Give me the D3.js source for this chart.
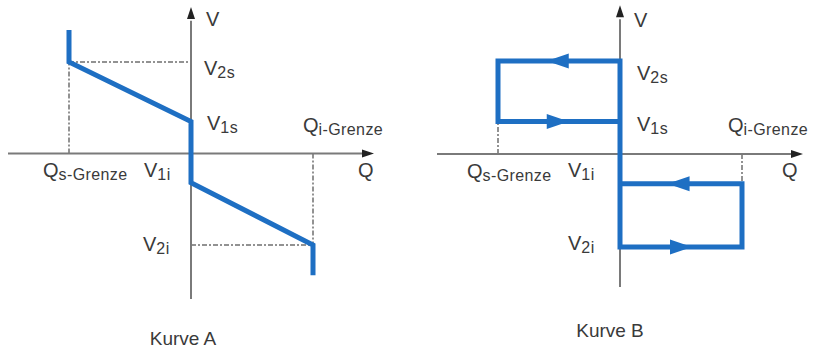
<!DOCTYPE html>
<html>
<head>
<meta charset="utf-8">
<script src="https://cdn.jsdelivr.net/npm/d3@7"></script>
<style>
  body { margin: 0; background: #fff; }
  svg { display: block; }
  text { font-family: "Liberation Sans", Arial, sans-serif; fill: #3a3a3a; }
</style>
</head>
<body>
<svg id="chart" width="813" height="350"></svg>
<script>
// curve A: droop characteristic (Q, V)
const curveAQ = [-1, -1, 0, 0, 1, 1];
const curveAV = [1.35, 1, 0.35, -0.32, -1, -1.33];
// curve B: hysteresis loops
const curveBQ = [0, -1, -1, 0, 0, 1, 1, 0];
const curveBV = [0.35, 0.35, 1, 1, -1, -1, -0.32, -0.32];
const arrowsBQ = [-0.51, -0.51, 0.48, 0.5];
const arrowsBV = [1, 0.35, -0.32, -1];
const arrowsBDir = [-1, 1, -1, 1];
const titles = ['Kurve A', 'Kurve B'];

const svg = d3.select('#chart');
const blue = '#1e6fc3';

const panels = [
	{ title: titles[0], xr: [69, 313], yr: [245, 62], vBottom: -1.59,
		guides: [[[-1, 1], [0, 1]], [[-1, 0], [-1, 1]], [[1, 0], [1, -1]], [[0, -1], [1, -1]]],
		lab: { V: [15, 26], V2s: [13, 75], V1s: [16, 130], Qi: [-10, 132], Qs: [-26, 177], V1i: [-47, 177], Q: [358, 177], V2i: [-48, 251], title: [183, 345] } },
	{ title: titles[1], xr: [498, 742], yr: [247, 61], vBottom: -1.43,
		guides: [[[-1, 0], [-1, 0.35]], [[1, 0], [1, -0.32]]],
		lab: { V: [14, 27], V2s: [17, 80], V1s: [17, 131], Qi: [-14, 132], Qs: [-31, 178], V1i: [-52, 177], Q: [782, 177], V2i: [-52, 250], title: [610, 337] } }
];

function label(g, x, y, main, sub) {
	const t = g.append('text').attr('x', x).attr('y', y).attr('font-size', 20);
	t.append('tspan').text(main);
	if (sub) t.append('tspan').attr('font-size', 16).attr('dy', 3).attr('letter-spacing', 0.4).text(sub);
}

panels.forEach((p, i) => {
	const x = d3.scaleLinear().domain([-1, 1]).range(p.xr);
	const y = d3.scaleLinear().domain([-1, 1]).range(p.yr);
	const g = svg.append('g');
	const x0 = x(0), y0 = y(0);

	/* guides */
	p.guides.forEach(s => {
		g.append('line')
			.attr('x1', x(s[0][0])).attr('y1', y(s[0][1]))
			.attr('x2', x(s[1][0])).attr('y2', y(s[1][1]))
			.attr('stroke', '#6f6f6f').attr('stroke-width', 1.5)
			.attr('stroke-dasharray', '5,2,2,2');
	});

	/* axes */
	g.append('line')
		.attr('x1', x(-1.5)).attr('y1', y0).attr('x2', x(1.43)).attr('y2', y0)
		.attr('stroke', '#7a7a7a').attr('stroke-width', 2);
	g.append('line')
		.attr('x1', x0).attr('y1', y(p.vBottom)).attr('x2', x0).attr('y2', y(1.45))
		.attr('stroke', '#7a7a7a').attr('stroke-width', 2);
	g.append('path')
		.attr('d', `M${x(1.5)},${y0} L${x(1.5) - 12},${y0 - 4} L${x(1.5) - 12},${y0 + 4} Z`)
		.attr('fill', '#222');
	g.append('path')
		.attr('d', `M${x0},${y(1.6)} L${x0 - 4},${y(1.6) + 12} L${x0 + 4},${y(1.6) + 12} Z`)
		.attr('fill', '#222');

	/* curve */
	const qs = i === 0 ? curveAQ : curveBQ;
	const vs = i === 0 ? curveAV : curveBV;
	const line = d3.line().x(d => x(d[0])).y(d => y(d[1]));
	g.append('path')
		.datum(qs.map((q, k) => [q, vs[k]]))
		.attr('d', line)
		.attr('fill', 'none').attr('stroke', blue).attr('stroke-width', 5)
		.attr('stroke-linejoin', 'miter').attr('stroke-linecap', i === 0 ? 'butt' : 'square');

	if (i === 1) {
		arrowsBQ.forEach((q, k) => {
			const cx = x(q), cy = y(arrowsBV[k]), d = arrowsBDir[k];
			g.append('path')
				.attr('d', `M${cx + d * 11},${cy} L${cx - d * 11},${cy - 7.5} L${cx - d * 11},${cy + 7.5} Z`)
				.attr('fill', blue);
		});
	}

	/* labels */
	const L = p.lab;
	label(g, x0 + L.V[0], L.V[1], 'V');
	label(g, x0 + L.V2s[0], L.V2s[1], 'V', '2s');
	label(g, x0 + L.V1s[0], L.V1s[1], 'V', '1s');
	label(g, x(1) + L.Qi[0], L.Qi[1], 'Q', 'i-Grenze');
	label(g, x(-1) + L.Qs[0], L.Qs[1], 'Q', 's-Grenze');
	label(g, x0 + L.V1i[0], L.V1i[1], 'V', '1i');
	label(g, L.Q[0], L.Q[1], 'Q');
	label(g, x0 + L.V2i[0], L.V2i[1], 'V', '2i');
	g.append('text').attr('x', L.title[0]).attr('y', L.title[1])
		.attr('text-anchor', 'middle').attr('font-size', 19).text(p.title);
});
</script>
</body>
</html>
